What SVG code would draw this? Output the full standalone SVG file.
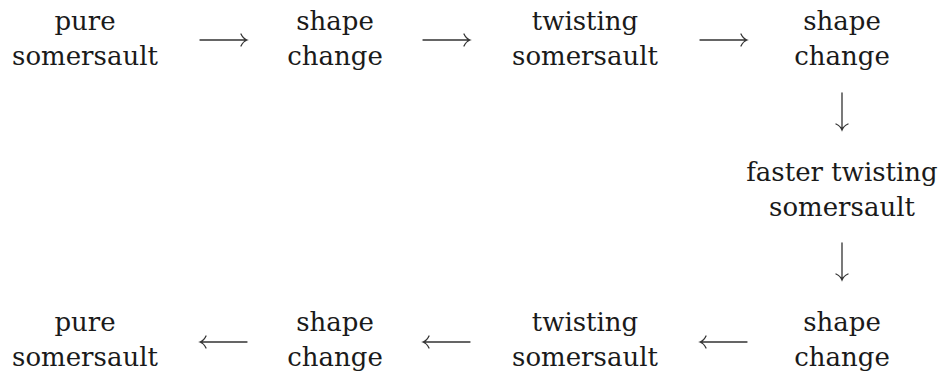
<svg xmlns="http://www.w3.org/2000/svg" width="941" height="377" viewBox="0 0 941 377">
<style>
text{font-family:"DejaVu Serif",serif;font-size:26px;fill:#1a1a1a;text-anchor:middle}
.ar{fill:none;stroke:#333;stroke-width:1.3;stroke-linecap:round}
</style>
<rect width="941" height="377" fill="#fff"/>
<g id="n1"><text x="85" y="30">pure</text><text x="85" y="65">somersault</text></g>
<g id="n2"><text x="335" y="30">shape</text><text x="335" y="65">change</text></g>
<g id="n3"><text x="585" y="30">twisting</text><text x="585" y="65">somersault</text></g>
<g id="n4"><text x="842" y="30">shape</text><text x="842" y="65">change</text></g>
<g id="n5"><text x="842" y="181">faster twisting</text><text x="842" y="216">somersault</text></g>
<g id="n6"><text x="842" y="331">shape</text><text x="842" y="366">change</text></g>
<g id="n7"><text x="585" y="331">twisting</text><text x="585" y="366">somersault</text></g>
<g id="n8"><text x="335" y="331">shape</text><text x="335" y="366">change</text></g>
<g id="n9"><text x="85" y="331">pure</text><text x="85" y="366">somersault</text></g>
<g id="connectors" class="ar">
<path d="M200,40 H246 M241,34 Q243,38.5 247,40 Q243,41.5 241,46"/>
<path d="M423,40 H469 M464,34 Q466,38.5 470,40 Q466,41.5 464,46"/>
<path d="M700,40 H746 M741,34 Q743,38.5 747,40 Q743,41.5 741,46"/>
<path d="M842,93 V129 M836,124 Q840.5,126 842,130 Q843.5,126 848,124"/>
<path d="M842,243 V279 M836,274 Q840.5,276 842,280 Q843.5,276 848,274"/>
<path d="M747,342 H701 M706,336 Q704,340.5 700,342 Q704,343.5 706,348"/>
<path d="M470,342 H424 M429,336 Q427,340.5 423,342 Q427,343.5 429,348"/>
<path d="M247,342 H201 M206,336 Q204,340.5 200,342 Q204,343.5 206,348"/>
</g>
</svg>
